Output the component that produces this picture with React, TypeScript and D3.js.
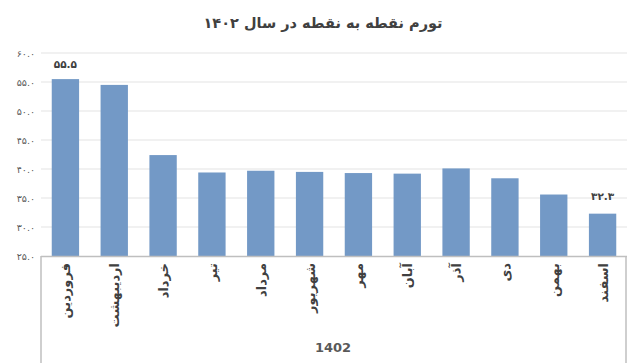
import React from "react";
import * as d3 from "d3";

const months = ["فروردین", "اردیبهشت", "خرداد", "تیر", "مرداد", "شهریور", "مهر", "آبان", "آذر", "دی", "بهمن", "اسفند"];
const values = [55.5, 54.5, 42.4, 39.4, 39.7, 39.5, 39.3, 39.2, 40.1, 38.4, 35.6, 32.3];
const yTicks = [25, 30, 35, 40, 45, 50, 55, 60];
const labeledIndex = [0, 11];
const title = "تورم نقطه به نقطه در سال ۱۴۰۲";
const groupLabel = "1402";

const W = 640;
const H = 363;
const left = 41;
const right = 627;
const top = 53;
const bottom = 256;

const fa = (s: string) => s.replace(/[0-9]/g, (d) => "۰۱۲۳۴۵۶۷۸۹"[+d]);
const fmt = (v: number) => fa(v.toFixed(1));

export default function App() {
  const x = d3.scaleBand<string>().domain(months).range([left, right]).paddingInner(0.44).paddingOuter(0.22);
  const y = d3.scaleLinear().domain([25, 60]).range([bottom, top]);
  const font = "'DejaVu Sans', sans-serif";
  return (
    <svg width={W} height={H} style={{ position: "absolute", left: 0, top: 0, background: "#fff" }}>
      <text x={323} y={28} textAnchor="middle" fontFamily={font} fontSize={14.5} fontWeight="bold" fill="#404040">
        {title}
      </text>
      {yTicks.filter((t) => t > 25).map((t) => (
        <line key={"g" + t} x1={left} x2={right} y1={y(t)} y2={y(t)} stroke="#e3e3e3" strokeWidth={1} />
      ))}
      {yTicks.map((t) => (
        <text key={"t" + t} x={35} y={y(t) + 3.5} textAnchor="end" fontFamily={font} fontSize={9.5} fill="#595959">
          {fmt(t)}
        </text>
      ))}
      {values.map((v, i) => (
        <rect key={"b" + i} x={x(months[i])} y={y(v)} width={x.bandwidth()} height={bottom - y(v)} fill="#7399c6" />
      ))}
      {labeledIndex.map((i) => (
        <text key={"l" + i} x={(x(months[i]) as number) + x.bandwidth() / 2} y={y(values[i]) - (i === 0 ? 11 : 14)} textAnchor="middle" fontFamily={font} fontSize={10.5} fontWeight="bold" fill="#404040">
          {fmt(values[i])}
        </text>
      ))}
      <line x1={left} x2={right} y1={bottom + 0.5} y2={bottom + 0.5} stroke="#bfbfbf" strokeWidth={1.5} />
      <line x1={left} x2={left} y1={bottom} y2={H} stroke="#bfbfbf" strokeWidth={1.5} />
      <line x1={right - 1} x2={right - 1} y1={bottom} y2={H} stroke="#bfbfbf" strokeWidth={1.5} />
      {months.map((m) => (
        <text
          key={"m" + m}
          transform={`translate(${(x(m) as number) + x.bandwidth() / 2 + 5},${263}) rotate(-90)`}
          textAnchor="end"
          fontFamily={font}
          fontSize={13}
          fontWeight="bold"
          fill="#404040"
        >
          {m}
        </text>
      ))}
      <text x={333} y={352} textAnchor="middle" fontFamily={font} fontSize={13} fontWeight="bold" fill="#595959">
        {groupLabel}
      </text>
    </svg>
  );
}
